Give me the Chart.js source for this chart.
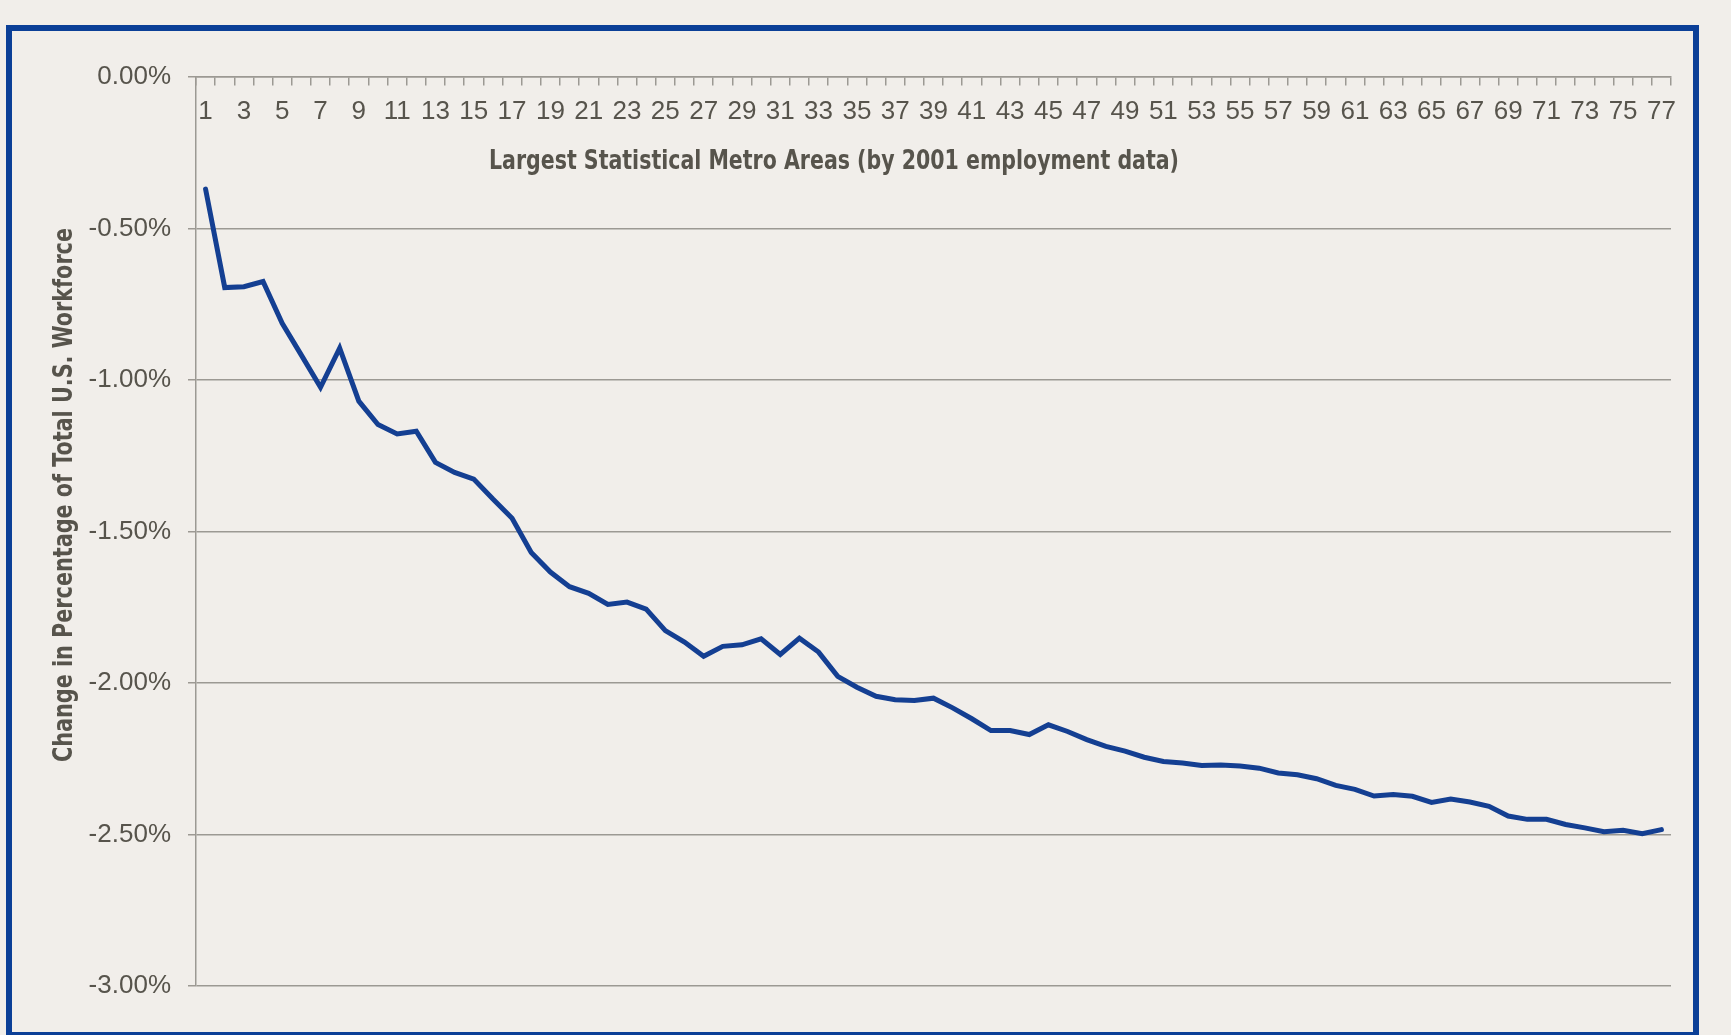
<!DOCTYPE html>
<html>
<head>
<meta charset="utf-8">
<script src="https://cdn.jsdelivr.net/npm/chart.js@4"></script>
<style>
  html, body { margin: 0; padding: 0; background: #f1eeea; }
  #frame {
    position: absolute; left: 6px; top: 25px;
    width: 1693px; height: 1013px; box-sizing: border-box;
    border: 6px solid #0b3f97; background: #f1eeea;
  }
  #metroChart { position: absolute; left: 0; top: 0; z-index: 2; }
</style>
</head>
<body>
<div id="frame"></div>
<canvas id="metroChart" width="1731" height="1035"></canvas>
<script>
// metro areas ranked 1..77
const metroRanks = [];
for (let i = 1; i <= 77; i++) metroRanks.push(String(i));

// change in share of total U.S. workforce, percent
const workforceChange = [
  -0.370, -0.695, -0.692, -0.675, -0.813, -0.918, -1.024, -0.895, -1.070, -1.147,
  -1.178, -1.169, -1.272, -1.305, -1.327, -1.393, -1.456, -1.569, -1.634, -1.682,
  -1.704, -1.741, -1.733, -1.756, -1.827, -1.865, -1.912, -1.879, -1.874, -1.854,
  -1.906, -1.852, -1.898, -1.978, -2.014, -2.044, -2.055, -2.058, -2.050, -2.082,
  -2.118, -2.157, -2.157, -2.170, -2.138, -2.160, -2.187, -2.209, -2.225, -2.245,
  -2.259, -2.264, -2.272, -2.271, -2.274, -2.281, -2.297, -2.303, -2.316, -2.338,
  -2.351, -2.373, -2.368, -2.374, -2.394, -2.383, -2.393, -2.407, -2.439, -2.450,
  -2.450, -2.467, -2.478, -2.491, -2.486, -2.497, -2.484
];

const xTitle = "Largest Statistical Metro Areas (by 2001 employment data)";
const yTitle = "Change in Percentage of Total U.S. Workforce";

const gridGray = "#9c9993";
const textGray = "#57544c";
const tickFont = { family: "'Liberation Sans', Arial, sans-serif", size: 26 };

// axis titles sit off-centre in the original, so they are painted here
const axisTitles = {
  id: "axisTitles",
  afterDraw(chart) {
    const ctx = chart.ctx;
    ctx.save();
    ctx.fillStyle = textGray;
    ctx.font = "bold 26px 'Liberation Sans Narrow', 'DejaVu Sans Condensed', sans-serif";
    ctx.textBaseline = "alphabetic";
    ctx.textAlign = "left";
    ctx.fillText(xTitle, 489, 169, 690);
    ctx.translate(72, 495);
    ctx.rotate(-Math.PI / 2);
    ctx.textAlign = "center";
    ctx.fillText(yTitle, 0, 0, 534);
    ctx.restore();
  }
};

const ctx = document.getElementById("metroChart").getContext("2d");

new Chart(ctx, {
  type: "line",
  data: {
    labels: metroRanks,
    datasets: [{
      data: workforceChange,
      borderColor: "#143f92",
      borderWidth: 5,
      borderCapStyle: "round",
      pointRadius: 0,
      tension: 0,
      fill: false
    }]
  },
  options: {
    responsive: false,
    animation: false,
    layout: { padding: { left: 0, right: 60, top: 77, bottom: 49 } },
    plugins: {
      legend: { display: false },
      tooltip: { enabled: false }
    },
    scales: {
      x: {
        type: "category",
        position: { y: 0 },
        offset: true,
        afterFit(scale) { scale.height = 0; },
        grid: {
          offset: true,
          drawOnChartArea: false,
          drawTicks: true,
          tickLength: 8,
          color: gridGray,
          lineWidth: 1.5
        },
        border: { display: true, color: gridGray, width: 1.5 },
        ticks: {
          autoSkip: false,
          maxRotation: 0,
          minRotation: 0,
          padding: 11,
          color: textGray,
          font: tickFont,
          callback: (v, i) => (i % 2 === 0 ? metroRanks[i] : "")
        }
      },
      y: {
        min: -3,
        max: 0,
        afterFit(scale) { scale.width = 196; },
        grid: {
          color: gridGray,
          lineWidth: 1.5,
          drawTicks: true,
          tickLength: 8
        },
        border: { display: true, color: gridGray, width: 1.5 },
        ticks: {
          stepSize: 0.5,
          padding: 17,
          color: textGray,
          font: tickFont,
          callback: v => v.toFixed(2) + "%"
        }
      }
    }
  },
  plugins: [axisTitles]
});
</script>
</body>
</html>
